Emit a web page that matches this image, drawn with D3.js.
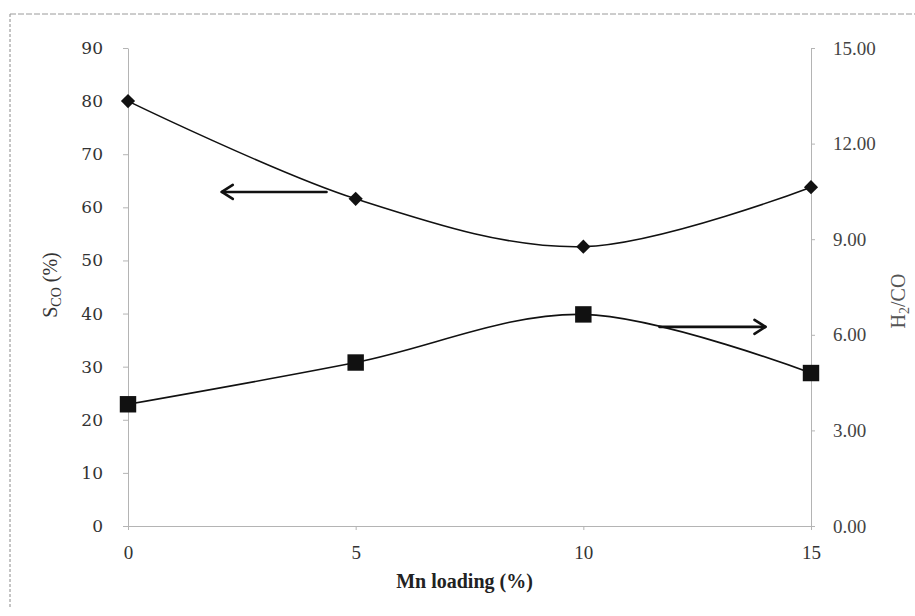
<!DOCTYPE html>
<html>
<head>
<meta charset="utf-8">
<script src="https://cdn.jsdelivr.net/npm/d3@7"></script>
<style>
  body { margin: 0; background: #fff; }
  svg { display: block; }
</style>
</head>
<body>
<div id="chart"></div>
<script>
// Mn loading (%) on x, S_CO on the left axis, H2/CO on the right axis
const mnLoading = [0, 5, 10, 15];
const sCO = [80.0, 61.6, 52.6, 63.8];
const h2co = [3.82, 5.13, 6.64, 4.80];

const xTicks = [0, 5, 10, 15];
const leftTicks = [0, 10, 20, 30, 40, 50, 60, 70, 80, 90];
const rightTicks = [0, 3, 6, 9, 12, 15];

// arrows pointing to the axis each curve belongs to
const leftArrow = { from: 4.36, to: 2.06, value: 62.9 };
const rightArrow = { from: 11.67, to: 14.0, value: 6.25 };

const width = 915, height = 616;
const margin = { top: 48, right: 104, bottom: 90, left: 128 };

const svg = d3.select('#chart')
  .append('svg')
  .attr('width', width)
  .attr('height', height);

const x = d3.scaleLinear()
  .domain([0, 15])
  .range([margin.left, width - margin.right]);

const yLeft = d3.scaleLinear()
  .domain([0, 90])
  .range([height - margin.bottom, margin.top]);

const yRight = d3.scaleLinear()
  .domain([0, 15])
  .range([height - margin.bottom, margin.top]);

// dashed frame (left and top only are visible)
svg.append('line')
  .attr('x1', 10).attr('y1', 14).attr('x2', 10).attr('y2', 608)
  .attr('stroke', '#8a8a8a').attr('stroke-dasharray', '3,2');
svg.append('line')
  .attr('x1', 10).attr('y1', 14).attr('x2', 915).attr('y2', 14)
  .attr('stroke', '#9a9a9a').attr('stroke-dasharray', '6,2');

const axisColor = '#b4b4b4';

// x axis
const xAxis = svg.append('g')
  .attr('transform', `translate(0,${yLeft(0)})`)
  .call(d3.axisBottom(x).tickValues(xTicks).tickSize(4).tickPadding(16).tickFormat(d3.format('d')));

// left axis
const leftAxis = svg.append('g')
  .attr('transform', `translate(${x(0)},0)`)
  .call(d3.axisLeft(yLeft).tickValues(leftTicks).tickSize(5).tickPadding(20).tickSizeOuter(0));

// right axis
const rightAxis = svg.append('g')
  .attr('transform', `translate(${x(15)},0)`)
  .call(d3.axisRight(yRight).tickValues(rightTicks).tickSize(4).tickPadding(18).tickSizeOuter(0)
    .tickFormat(d3.format('.2f')));

[xAxis, leftAxis, rightAxis].forEach(g => {
  g.select('.domain').attr('stroke', axisColor);
  g.selectAll('.tick line').attr('stroke', axisColor);
});

xAxis.selectAll('text')
  .style('font-family', '"Liberation Serif", serif')
  .style('font-size', '19px')
  .attr('fill', '#333');

leftAxis.selectAll('text')
  .style('font-family', '"DejaVu Serif", serif')
  .style('font-size', '17px')
  .attr('fill', '#333');

rightAxis.selectAll('text')
  .style('font-family', '"Liberation Serif", serif')
  .style('font-size', '19px')
  .attr('fill', '#444');

// axis titles
svg.append('text')
  .attr('x', (x(0) + x(15)) / 2 - 5)
  .attr('y', 588)
  .attr('text-anchor', 'middle')
  .style('font-family', '"Liberation Serif", serif')
  .style('font-size', '20px')
  .style('font-weight', 'bold')
  .attr('fill', '#222')
  .text('Mn loading (%)');

const leftTitle = svg.append('text')
  .attr('transform', `translate(57,${yLeft(45) - 2}) rotate(-90)`)
  .attr('text-anchor', 'middle')
  .style('font-family', '"Liberation Serif", serif')
  .style('font-size', '20px')
  .attr('fill', '#333');
leftTitle.append('tspan').text('S');
leftTitle.append('tspan').attr('dy', 4).style('font-size', '14px').text('CO');
leftTitle.append('tspan').attr('dy', -4).text(' (%)');

const rightTitle = svg.append('text')
  .attr('transform', `translate(905,${yRight(7.5) + 14}) rotate(-90)`)
  .attr('text-anchor', 'middle')
  .style('font-family', '"Liberation Serif", serif')
  .style('font-size', '20px')
  .attr('fill', '#555');
rightTitle.append('tspan').text('H');
rightTitle.append('tspan').attr('dy', 4).style('font-size', '14px').text('2');
rightTitle.append('tspan').attr('dy', -4).text('/CO');

// smooth lines
const lineLeft = d3.line()
  .x((d, i) => x(mnLoading[i]))
  .y(d => yLeft(d))
  .curve(d3.curveCatmullRom.alpha(0));

const lineRight = d3.line()
  .x((d, i) => x(mnLoading[i]))
  .y(d => yRight(d))
  .curve(d3.curveCatmullRom.alpha(0));

svg.append('path')
  .datum(sCO)
  .attr('d', lineLeft)
  .attr('fill', 'none')
  .attr('stroke', '#111')
  .attr('stroke-width', 1.6);

svg.append('path')
  .datum(h2co)
  .attr('d', lineRight)
  .attr('fill', 'none')
  .attr('stroke', '#111')
  .attr('stroke-width', 1.6);

// markers
svg.selectAll('.diamond')
  .data(sCO)
  .enter()
  .append('path')
  .attr('class', 'diamond')
  .attr('transform', (d, i) => `translate(${x(mnLoading[i])},${yLeft(d)}) rotate(45)`)
  .attr('d', d3.symbol().type(d3.symbolSquare).size(100))
  .attr('fill', '#111');

svg.selectAll('.square')
  .data(h2co)
  .enter()
  .append('path')
  .attr('class', 'square')
  .attr('transform', (d, i) => `translate(${x(mnLoading[i])},${yRight(d)})`)
  .attr('d', d3.symbol().type(d3.symbolSquare).size(270))
  .attr('fill', '#111');

// arrows
function drawArrow(x1, x2, y) {
  const dir = x2 > x1 ? 1 : -1;
  const g = svg.append('g')
    .attr('fill', 'none')
    .attr('stroke', '#111')
    .attr('stroke-width', 2.6)
    .attr('stroke-linecap', 'round')
    .attr('stroke-linejoin', 'round');
  g.append('line')
    .attr('x1', x1).attr('y1', y)
    .attr('x2', x2).attr('y2', y);
  g.append('polyline')
    .attr('points', `${x2 - dir * 11},${y - 7} ${x2},${y} ${x2 - dir * 11},${y + 7}`);
}

drawArrow(x(leftArrow.from), x(leftArrow.to), yLeft(leftArrow.value));
drawArrow(x(rightArrow.from), x(rightArrow.to), yRight(rightArrow.value));
</script>
</body>
</html>
